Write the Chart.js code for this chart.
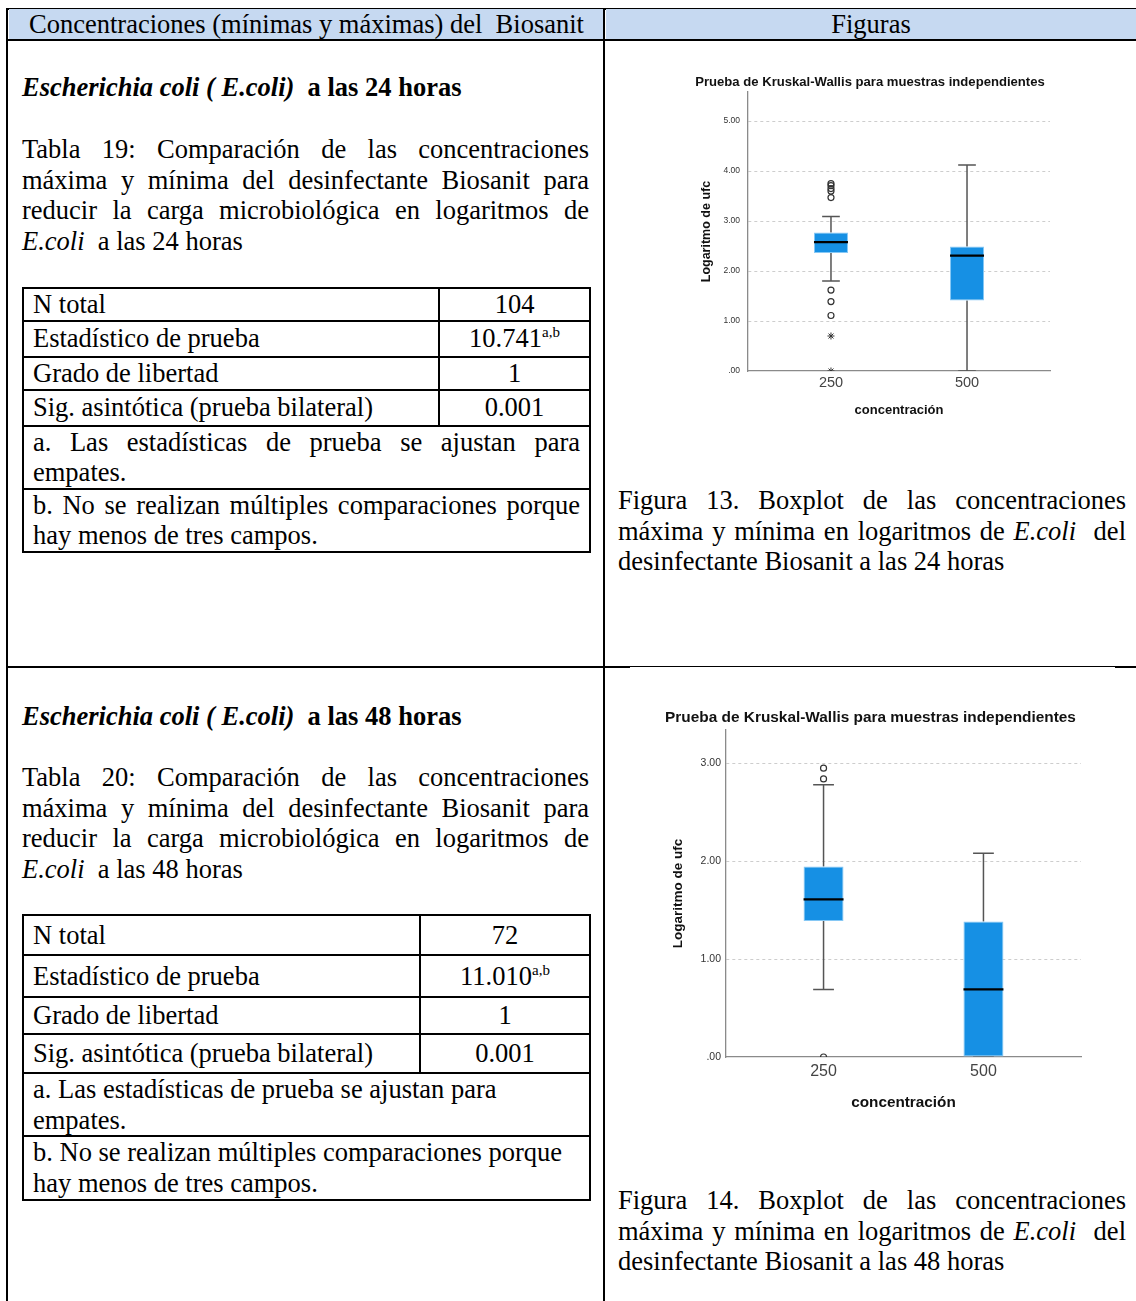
<!DOCTYPE html>
<html lang="es">
<head>
<meta charset="utf-8">
<title>Concentraciones del Biosanit - E.coli</title>
<script src="https://cdn.jsdelivr.net/npm/chart.js@4.4.1/dist/chart.umd.min.js"></script>
<style>
  html, body { margin: 0; padding: 0; background: #fff; }
  body {
    width: 1136px; height: 1301px; position: relative; overflow: hidden;
    font-family: "Liberation Serif", "Times New Roman", serif;
    font-size: 26.5px; color: #000;
  }
  .rule { position: absolute; background: #000; }
  .hdr {
    position: absolute; top: 9px; height: 31px; line-height: 31px;
    background: #c6d9f1; text-align: center; white-space: nowrap;
  }
  .par { position: absolute; line-height: 30.7px; }
  .par .j { text-align: justify; text-align-last: justify; }
  table.stats {
    position: absolute; left: 22px; width: 567px;
    border-collapse: collapse; table-layout: fixed;
    line-height: 30.7px;
  }
  table.stats td { border: 2px solid #000; padding: 0 0 0 9px; vertical-align: middle; }
  table.stats td.num { text-align: center; padding: 0; }
  table.stats td.note { vertical-align: top; padding: 0 9px; line-height: 30.5px; }
  sup { font-size: 15px; line-height: 0; vertical-align: 10px; }
  canvas { position: absolute; }
</style>
</head>
<body>

<!-- encabezado -->
<div class="rule" style="left:7px; top:8px; width:1129px; height:2px;"></div>
<div class="hdr" style="left:9px; width:595px;">Concentraciones (mínimas y máximas) del&nbsp; Biosanit</div>
<div class="hdr" style="left:606px; width:530px;">Figuras</div>
<div class="rule" style="left:7px; top:39px; width:1129px; height:2px;"></div>

<!-- bordes de la tabla -->
<div class="rule" style="left:6px; top:8px; width:2px; height:1293px;"></div>
<div class="rule" style="left:603px; top:8px; width:2px; height:1293px;"></div>
<div class="rule" style="left:7px; top:666px; width:623px; height:2px;"></div>
<div class="rule" style="left:630px; top:666px; width:485px; height:1px;"></div>
<div class="rule" style="left:1115px; top:666px; width:21px; height:2px;"></div>

<!-- 24 horas -->
<div class="par" style="left:22px; top:72px; width:567px;">
  <b><i>Escherichia coli ( E.coli)</i>&nbsp; a las 24 horas</b>
</div>
<div class="par" style="left:22px; top:134px; width:567px;">
  <div class="j">Tabla 19: Comparación de las concentraciones</div>
  <div class="j">máxima y mínima del desinfectante Biosanit para</div>
  <div class="j">reducir la carga microbiológica en logaritmos de</div>
  <div><i>E.coli</i>&nbsp; a las 24 horas</div>
</div>
<table class="stats" style="top:287px;">
  <colgroup><col style="width:416px"><col style="width:151px"></colgroup>
  <tr style="height:32px"><td>N total</td><td class="num">104</td></tr>
  <tr style="height:36px"><td>Estadístico de prueba</td><td class="num">10.741<sup>a,b</sup></td></tr>
  <tr style="height:33px"><td>Grado de libertad</td><td class="num">1</td></tr>
  <tr style="height:36px"><td>Sig. asintótica (prueba bilateral)</td><td class="num">0.001</td></tr>
  <tr style="height:63px"><td class="note" colspan="2">
    <div style="text-align:justify; text-align-last:justify;">a. Las estadísticas de prueba se ajustan para</div>
    <div>empates.</div></td></tr>
  <tr style="height:63px"><td class="note" colspan="2">
    <div style="text-align:justify; text-align-last:justify;">b. No se realizan múltiples comparaciones porque</div>
    <div>hay menos de tres campos.</div></td></tr>
</table>

<canvas id="chart24" width="370" height="355" style="left:690px; top:70px; width:370px; height:355px;"></canvas>
<div class="par" style="left:618px; top:485px; width:508px;">
  <div class="j">Figura 13. Boxplot de las concentraciones</div>
  <div class="j">máxima y mínima en logaritmos de <i>E.coli</i>&nbsp; del</div>
  <div>desinfectante Biosanit a las 24 horas</div>
</div>

<!-- 48 horas -->
<div class="par" style="left:22px; top:701px; width:567px;">
  <b><i>Escherichia coli ( E.coli)</i>&nbsp; a las 48 horas</b>
</div>
<div class="par" style="left:22px; top:762px; width:567px;">
  <div class="j">Tabla 20: Comparación de las concentraciones</div>
  <div class="j">máxima y mínima del desinfectante Biosanit para</div>
  <div class="j">reducir la carga microbiológica en logaritmos de</div>
  <div><i>E.coli</i>&nbsp; a las 48 horas</div>
</div>
<table class="stats" style="top:914px;">
  <colgroup><col style="width:397px"><col style="width:170px"></colgroup>
  <tr style="height:40px"><td>N total</td><td class="num">72</td></tr>
  <tr style="height:42px"><td>Estadístico de prueba</td><td class="num">11.010<sup>a,b</sup></td></tr>
  <tr style="height:37px"><td>Grado de libertad</td><td class="num">1</td></tr>
  <tr style="height:39px"><td>Sig. asintótica (prueba bilateral)</td><td class="num">0.001</td></tr>
  <tr style="height:62px"><td class="note" colspan="2">
    <div>a. Las estadísticas de prueba se ajustan para</div>
    <div>empates.</div></td></tr>
  <tr style="height:64px"><td class="note" colspan="2">
    <div>b. No se realizan múltiples comparaciones porque</div>
    <div>hay menos de tres campos.</div></td></tr>
</table>

<canvas id="chart48" width="430" height="410" style="left:660px; top:705px; width:430px; height:410px;"></canvas>
<div class="par" style="left:618px; top:1185px; width:508px;">
  <div class="j">Figura 14. Boxplot de las concentraciones</div>
  <div class="j">máxima y mínima en logaritmos de <i>E.coli</i>&nbsp; del</div>
  <div>desinfectante Biosanit a las 48 horas</div>
</div>

<script>
// grupos de concentración
const categories = ['250', '500'];

// boxplot a las 24 horas (logaritmo de ufc)
const min24 = [1.80, 0.00];
const q1_24 = [2.36, 1.41];
const median24 = [2.58, 2.31];
const q3_24 = [2.77, 2.49];
const max24 = [3.09, 4.12];
const outliers24 = [[3.75, 3.71, 3.65, 3.60, 3.47, 1.62, 1.39, 1.11], []];
const extremes24 = [[0.70, 0.00], []];
const yTicks24 = [0, 1, 2, 3, 4, 5];

// boxplot a las 48 horas (logaritmo de ufc)
const min48 = [0.69, 0.00];
const q1_48 = [1.39, 0.00];
const median48 = [1.61, 0.69];
const q3_48 = [1.945, 1.385];
const max48 = [2.78, 2.08];
const outliers48 = [[2.95, 2.84, 0.00], []];
const extremes48 = [[], []];
const yTicks48 = [0, 1, 2, 3];

const chartTitle = 'Prueba de Kruskal-Wallis para muestras independientes';

Chart.defaults.font.family = '"Liberation Sans", Arial, sans-serif';

// arma los datasets de un boxplot: caja, mediana, bigotes y atípicos
function boxplotDatasets(q1, median, q3, min, max, outliers, extremes) {
  const half = 0.125;   // media anchura de la caja (en unidades del eje x)
  const cap = 0.065;    // media anchura del remate del bigote

  const whiskers = [];
  const medians = [];
  const circles = [];
  const stars = [];
  categories.forEach((c, i) => {
    const x = i + 1;
    whiskers.push(
      { x: x, y: q3[i] }, { x: x, y: max[i] }, { x: x, y: null },
      { x: x - cap, y: max[i] }, { x: x + cap, y: max[i] }, { x: x, y: null },
      { x: x, y: q1[i] }, { x: x, y: min[i] }, { x: x, y: null },
      { x: x - cap, y: min[i] }, { x: x + cap, y: min[i] }, { x: x, y: null }
    );
    medians.push({ x: x - half, y: median[i] }, { x: x + half, y: median[i] }, { x: x, y: null });
    outliers[i].forEach(v => circles.push({ x: x, y: v }));
    extremes[i].forEach(v => stars.push({ x: x, y: v }));
  });

  return [
    {
      type: 'line', data: medians, order: 0,
      borderColor: '#000', borderWidth: 2.2, pointRadius: 0, spanGaps: false
    },
    {
      type: 'line', data: circles, order: 0, showLine: false, clip: 0,
      pointStyle: 'circle', pointRadius: 3, pointBorderWidth: 1.2,
      pointBorderColor: '#333', pointBackgroundColor: 'rgba(255,255,255,0)'
    },
    {
      type: 'line', data: stars, order: 0, showLine: false, clip: 0,
      pointStyle: 'star', pointRadius: 3.5, pointBorderWidth: 1,
      pointBorderColor: '#333', pointBackgroundColor: '#333'
    },
    {
      type: 'bar', order: 1,
      data: categories.map((c, i) => ({ x: i + 1, y: [q1[i], q3[i]] })),
      backgroundColor: '#1690e4', borderColor: '#86c8f5', borderWidth: 1,
      borderSkipped: false, categoryPercentage: 1, barPercentage: 0.25
    },
    {
      type: 'line', data: whiskers, order: 2,
      borderColor: '#555', borderWidth: 1.5, pointRadius: 0, spanGaps: false
    }
  ];
}

function makeBoxplot(id, datasets, s) {
  return new Chart(document.getElementById(id), {
    type: 'bar',
    data: { datasets: datasets },
    options: {
      responsive: false,
      animation: false,
      layout: { padding: { left: 0, right: s.padRight, top: 0, bottom: 0 } },
      plugins: {
        legend: { display: false },
        tooltip: { enabled: false },
        title: {
          display: true, text: chartTitle, color: '#111',
          font: { size: s.titleSize, weight: 'bold' },
          padding: { top: s.titleTop, bottom: s.titleBottom }
        }
      },
      scales: {
        x: {
          type: 'linear', min: 0.39, max: 2.61, offset: false, z: 1,
          grid: { display: false, drawTicks: false },
          border: { color: '#8a8a8a', width: 1.3 },
          afterBuildTicks: sc => { sc.ticks = categories.map((c, i) => ({ value: i + 1 })); },
          afterFit: sc => { sc.height = s.xHeight; },
          ticks: {
            callback: v => categories[v - 1],
            font: { size: s.xTickSize }, color: '#444',
            padding: s.xTickPad, autoSkip: false, maxRotation: 0
          },
          title: {
            display: true, text: 'concentración', color: '#111',
            font: { size: s.xTitleSize, weight: 'bold' },
            padding: { top: 0, bottom: s.xTitlePad }
          }
        },
        y: {
          min: 0, max: s.yMax,
          afterBuildTicks: sc => { sc.ticks = s.yTicks.map(v => ({ value: v })); },
          afterFit: sc => { sc.width = s.yWidth; },
          grid: {
            drawTicks: false, lineWidth: 1,
            color: c => c.tick && c.tick.value === 0 ? 'rgba(0,0,0,0)' : '#cdcdcd'
          },
          border: { color: '#8a8a8a', width: 1.3, dash: [3, 3] },
          ticks: {
            callback: v => v === 0 ? '.00' : v.toFixed(2),
            font: { size: s.yTickSize }, color: '#333', padding: s.yTickPad
          },
          title: {
            display: true, text: 'Logaritmo de ufc', color: '#111',
            font: { size: s.yTitleSize, weight: 'bold' },
            padding: { top: s.yTitlePad, bottom: 0 }
          }
        }
      }
    }
  });
}

makeBoxplot('chart24',
  boxplotDatasets(q1_24, median24, q3_24, min24, max24, outliers24, extremes24),
  {
    padRight: 10, titleSize: 13.1, titleTop: 4.2, titleBottom: 2.2,
    xHeight: 54, xTickSize: 14.5, xTickPad: 3.3, xTitleSize: 13, xTitlePad: 7.2,
    yMax: 5.58, yTicks: yTicks24, yWidth: 58, yTickSize: 8.5, yTickPad: 8,
    yTitleSize: 12.5, yTitlePad: 9.5
  });

makeBoxplot('chart48',
  boxplotDatasets(q1_48, median48, q3_48, min48, max48, outliers48, extremes48),
  {
    padRight: 9, titleSize: 15.4, titleTop: 3.7, titleBottom: 2.8,
    xHeight: 58, xTickSize: 16, xTickPad: 4.8, xTitleSize: 15.3, xTitlePad: 2.8,
    yMax: 3.34, yTicks: yTicks48, yWidth: 66, yTickSize: 10.5, yTickPad: 5,
    yTitleSize: 13.5, yTitlePad: 9.9
  });
</script>
</body>
</html>
